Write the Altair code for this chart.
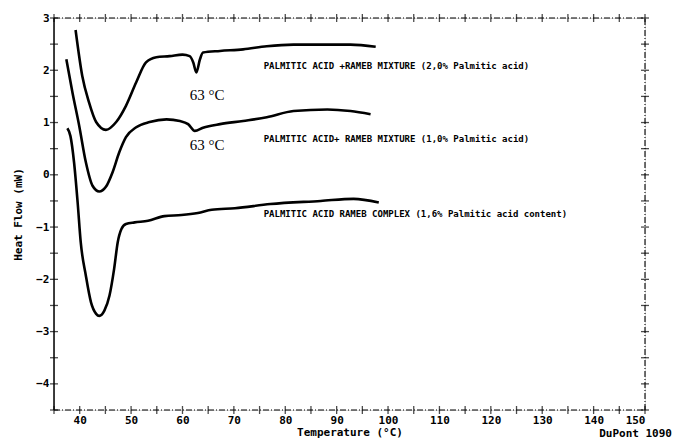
import altair as alt
import pandas as pd

# ---- data ----
t_a = [39.2, 40.5, 41.8, 43.2, 45.1, 47.1, 49.0, 51.0, 52.9, 54.9, 57.5, 60.0, 61.4, 62.1, 62.7, 63.4, 64.0, 67.3, 71.8, 76.4, 81.6, 88.2, 92.7, 97.6]
hf_a = [2.77, 1.89, 1.39, 1.01, 0.86, 1.01, 1.32, 1.77, 2.15, 2.25, 2.27, 2.30, 2.27, 2.15, 1.96, 2.21, 2.34, 2.37, 2.40, 2.46, 2.49, 2.49, 2.49, 2.45]

t_b = [37.4, 38.6, 39.9, 41.2, 42.5, 43.8, 45.1, 46.4, 47.7, 49.0, 51.0, 53.6, 56.9, 59.5, 61.1, 62.4, 64.0, 67.3, 71.8, 76.4, 81.6, 88.2, 92.7, 96.6]
hf_b = [2.21, 1.57, 0.94, 0.24, -0.21, -0.32, -0.23, 0.05, 0.43, 0.72, 0.91, 1.01, 1.06, 1.03, 0.97, 0.84, 0.90, 0.97, 1.03, 1.10, 1.22, 1.25, 1.22, 1.16]

t_c = [37.6, 38.2, 38.9, 39.6, 40.2, 41.2, 42.2, 43.2, 43.8, 44.8, 45.8, 46.7, 47.4, 48.1, 49.0, 50.7, 53.3, 56.5, 59.8, 63.0, 65.7, 70.2, 77.1, 86.9, 93.3, 98.2]
hf_c = [0.89, 0.74, 0.24, -0.53, -1.29, -1.93, -2.44, -2.66, -2.70, -2.60, -2.31, -1.80, -1.29, -1.04, -0.94, -0.91, -0.88, -0.79, -0.77, -0.73, -0.67, -0.64, -0.56, -0.50, -0.46, -0.53]

series_names = ["2.0% mixture", "1.0% mixture", "complex"]

curve_labels = [
    "PALMITIC ACID +RAMEB MIXTURE (2,0% Palmitic acid)",
    "PALMITIC ACID+ RAMEB MIXTURE (1,0% Palmitic acid)",
    "PALMITIC ACID RAMEB COMPLEX (1,6% Palmitic acid content)",
]
curve_label_t = [75.8, 75.8, 75.8]
curve_label_hf = [2.08, 0.68, -0.75]

peak_labels = ["63 °C", "63 °C"]
peak_t = [61.4, 61.4]
peak_hf = [1.43, 0.47]

x_ticks = list(range(35, 151, 5))
y_ticks = [v / 2 for v in range(-9, 7)]
x_labels = list(range(40, 151, 10))
y_labels = list(range(-4, 4))

X_MIN, X_MAX = 35, 150
Y_MIN, Y_MAX = -4.5, 3

MONO = "DejaVu Sans Mono"

rows = []
for name, ts, hs in zip(series_names, [t_a, t_b, t_c], [hf_a, hf_b, hf_c]):
    for i, (t, h) in enumerate(zip(ts, hs)):
        rows.append({"series": name, "t": t, "hf": h, "i": i})
curves = pd.DataFrame(rows)

xs = alt.Scale(domain=[X_MIN, X_MAX], nice=False, zero=False)
ys = alt.Scale(domain=[Y_MIN, Y_MAX], nice=False, zero=False)

base_x = alt.X(
    "t:Q", scale=xs,
    axis=alt.Axis(values=x_labels, ticks=False, domain=False, grid=False,
                  labelFont=MONO, labelFontSize=11, labelFontWeight="bold",
                  labelColor="black", labelPadding=4,
                  title="Temperature (°C)", titleFont=MONO, titleFontSize=11,
                  titleFontWeight="bold", titleColor="black", titlePadding=1),
)
base_y = alt.Y(
    "hf:Q", scale=ys,
    axis=alt.Axis(values=y_labels, ticks=False, domain=False, grid=False,
                  labelFont=MONO, labelFontSize=11, labelFontWeight="bold",
                  labelColor="black", labelPadding=5,
                  title="Heat Flow (mW)", titleFont=MONO, titleFontSize=11,
                  titleFontWeight="bold", titleColor="black", titlePadding=12),
)

lines = alt.Chart(curves).mark_line(color="black", strokeWidth=2.6, interpolate="monotone").encode(
    x=base_x, y=base_y, detail="series:N", order="i:Q"
)

# frame
left = alt.Chart().mark_rule(color="black", strokeWidth=1.5).encode(
    x=alt.datum(X_MIN, scale=xs), y=alt.datum(Y_MIN, scale=ys), y2=alt.datum(Y_MAX))
dash = [6, 2, 1, 2]
bottom = alt.Chart().mark_rule(color="black", strokeWidth=1.1, strokeDash=dash).encode(
    y=alt.datum(Y_MIN, scale=ys), x=alt.datum(X_MIN, scale=xs), x2=alt.datum(X_MAX))
top = alt.Chart().mark_rule(color="black", strokeWidth=1.1, strokeDash=dash).encode(
    y=alt.datum(Y_MAX, scale=ys), x=alt.datum(X_MIN, scale=xs), x2=alt.datum(X_MAX))
right = alt.Chart().mark_rule(color="black", strokeWidth=1.1, strokeDash=dash).encode(
    x=alt.datum(X_MAX, scale=xs), y=alt.datum(Y_MIN, scale=ys), y2=alt.datum(Y_MAX))

xt = pd.DataFrame({"t": x_ticks})
yt = pd.DataFrame({"hf": y_ticks})
ticks_bottom = alt.Chart(xt).mark_tick(orient="vertical", color="black", size=8, thickness=1.3).encode(
    x=alt.X("t:Q", scale=xs), y=alt.datum(Y_MIN, scale=ys))
ticks_top = alt.Chart(xt).mark_tick(orient="vertical", color="black", size=8, thickness=1.3).encode(
    x=alt.X("t:Q", scale=xs), y=alt.datum(Y_MAX, scale=ys))
ticks_left = alt.Chart(yt).mark_tick(orient="horizontal", color="black", size=8, thickness=1.3).encode(
    y=alt.Y("hf:Q", scale=ys), x=alt.datum(X_MIN, scale=xs))
ticks_right = alt.Chart(yt).mark_tick(orient="horizontal", color="black", size=8, thickness=1.3).encode(
    y=alt.Y("hf:Q", scale=ys), x=alt.datum(X_MAX, scale=xs))

lab_df = pd.DataFrame({"t": curve_label_t, "hf": curve_label_hf, "label": curve_labels})
curve_text = alt.Chart(lab_df).mark_text(
    align="left", baseline="middle", font=MONO, fontSize=9, fontWeight="bold", color="black"
).encode(x=alt.X("t:Q", scale=xs), y=alt.Y("hf:Q", scale=ys), text="label:N")

peak_df = pd.DataFrame({"t": peak_t, "hf": peak_hf, "label": peak_labels})
peak_text = alt.Chart(peak_df).mark_text(
    align="left", baseline="alphabetic", font="Liberation Serif", fontSize=15, color="black"
).encode(x=alt.X("t:Q", scale=xs), y=alt.Y("hf:Q", scale=ys), text="label:N")

dupont = alt.Chart().mark_text(
    align="right", baseline="middle", font=MONO, fontSize=11, fontWeight="bold",
    color="black", dx=27, dy=24, text="DuPont 1090"
).encode(x=alt.datum(X_MAX, scale=xs), y=alt.datum(Y_MIN, scale=ys))

chart = alt.layer(
    lines, left, bottom, top, right,
    ticks_bottom, ticks_top, ticks_left, ticks_right,
    curve_text, peak_text, dupont,
).properties(
    width=591, height=392,
    padding={"left": 54, "top": 18, "right": 29, "bottom": 32},
    autosize=alt.AutoSizeParams(type="none"),
).configure_view(stroke=None).configure(background="white")

chart.save("out.html", embed_options={"renderer": "svg", "actions": False})
